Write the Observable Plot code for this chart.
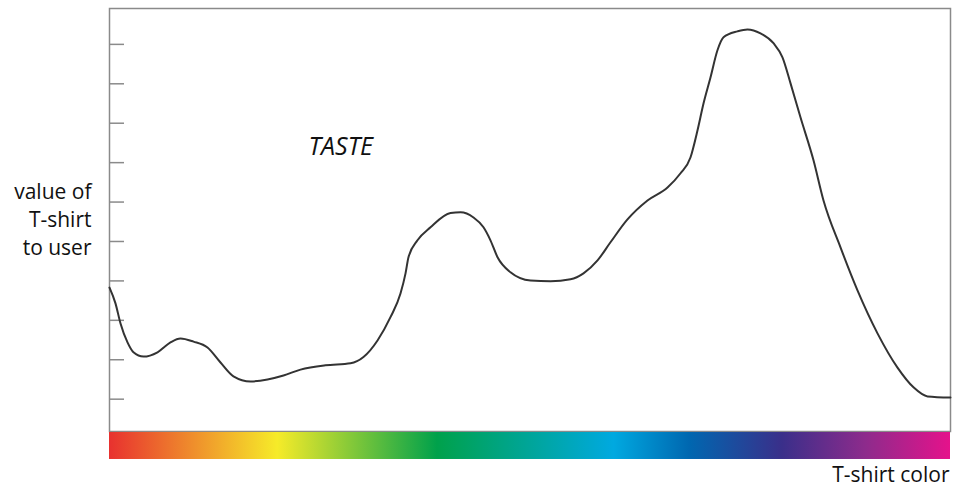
<!DOCTYPE html>
<html>
<head>
<meta charset="utf-8">
<script src="https://cdn.jsdelivr.net/npm/d3@7"></script>
<script src="https://cdn.jsdelivr.net/npm/@observablehq/plot@0.6"></script>
<style>
  html, body { margin: 0; padding: 0; background: #fff; }
  #chart { width: 955px; height: 494px; }
</style>
</head>
<body>
<svg width="0" height="0" style="position:absolute">
  <defs><linearGradient id="spectrum" x1="0" x2="1" y1="0" y2="0"></linearGradient></defs>
</svg>
<div id="chart"></div>
<script>
// Position along the colour spectrum (0–100)
const colorPos = [0, 0.71, 1.31, 2.14, 2.85, 4.04, 5.71, 7.25, 8.44, 9.99, 11.65, 13.2, 14.74, 16.77, 18.79, 20.69, 22.71, 25.68, 28.66, 30.2, 31.87, 33.41, 34.6, 35.2, 35.55, 36.62, 38.17, 40.55, 41.74, 43.28, 44.47, 45.3, 46.14, 47.68, 50.06, 52.44, 54.82, 56.36, 58.03, 59.57, 61.59, 63.97, 66.35, 67.9, 69.08, 69.92, 70.63, 71.46, 72.29, 73.01, 74.67, 75.86, 77.41, 78.95, 80.02, 80.98, 82.16, 83.71, 84.9, 86.92, 88.94, 91.32, 93.7, 95.6, 97.27, 100];
// Value of T-shirt to user (in tick units)
const tasteValue = [3.83, 3.43, 2.92, 2.44, 2.19, 2.08, 2.19, 2.44, 2.54, 2.46, 2.31, 1.93, 1.58, 1.45, 1.5, 1.6, 1.75, 1.86, 1.91, 2.07, 2.49, 3.08, 3.68, 4.19, 4.6, 5.03, 5.36, 5.72, 5.74, 5.61, 5.36, 5.03, 4.6, 4.22, 4.01, 3.99, 4.04, 4.19, 4.52, 4.98, 5.56, 6.04, 6.37, 6.73, 7.13, 7.82, 8.5, 9.16, 9.85, 10.18, 10.33, 10.38, 10.28, 10.03, 9.67, 9.01, 8.15, 7.06, 6.04, 4.85, 3.76, 2.67, 1.8, 1.3, 1.07, 1.04];
const yTicks = [1, 2, 3, 4, 5, 6, 7, 8, 9, 10];
const spectrumOffsets = [0, 0.2, 0.39, 0.6, 0.69, 0.8, 0.9, 1];
const spectrumColors = ["#e8312f", "#f6eb29", "#00a14b", "#00a9e0", "#0067b0", "#3a2f8a", "#8e2b8c", "#e5128b"];
const seriesLabel = "TASTE";
const yLabel = "value of\nT-shirt\nto user";
const xLabel = "T-shirt color";

// build gradient
const grad = document.getElementById("spectrum");
spectrumOffsets.forEach((o, i) => {
  const s = document.createElementNS("http://www.w3.org/2000/svg", "stop");
  s.setAttribute("offset", o);
  s.setAttribute("stop-color", spectrumColors[i]);
  grad.appendChild(s);
});

const data = colorPos.map((x, i) => ({x, y: tasteValue[i]}));
const font = "'Open Sans', sans-serif";

const chart = Plot.plot({
  width: 955,
  height: 494,
  marginLeft: 109,
  marginRight: 5,
  marginTop: 8,
  marginBottom: 63,
  style: {fontFamily: font, background: "#fff", color: "#111"},
  x: {domain: [0, 100], axis: null},
  y: {domain: [0.18, 10.91], axis: null},
  marks: [
    Plot.axisY(yTicks, {tickSize: -15, tickFormat: () => "", stroke: "#8a8a8a", strokeWidth: 1.5, label: null}),
    Plot.frame({stroke: "#8a8a8a", strokeWidth: 1.5}),
    Plot.rect([0], {x1: 0, x2: 100, y1: -0.53, y2: 0.155, fill: "url(#spectrum)"}),
    Plot.line(data, {x: "x", y: "y", curve: "monotone-x", stroke: "#333", strokeWidth: 2}),
    Plot.text([seriesLabel], {x: 27.5, y: 7.4, text: d => d, fontSize: 25, fontStyle: "italic", fill: "#111"}),
    Plot.text([yLabel], {frameAnchor: "left", dx: -18, dy: -2, textAnchor: "end", text: d => d, fontSize: 21, lineHeight: 1.33, fill: "#111"}),
    Plot.text([xLabel], {frameAnchor: "bottom-right", dx: -1, dy: 50, textAnchor: "end", text: d => d, fontSize: 21, fill: "#111"})
  ]
});
document.getElementById("chart").appendChild(chart);
</script>
</body>
</html>
